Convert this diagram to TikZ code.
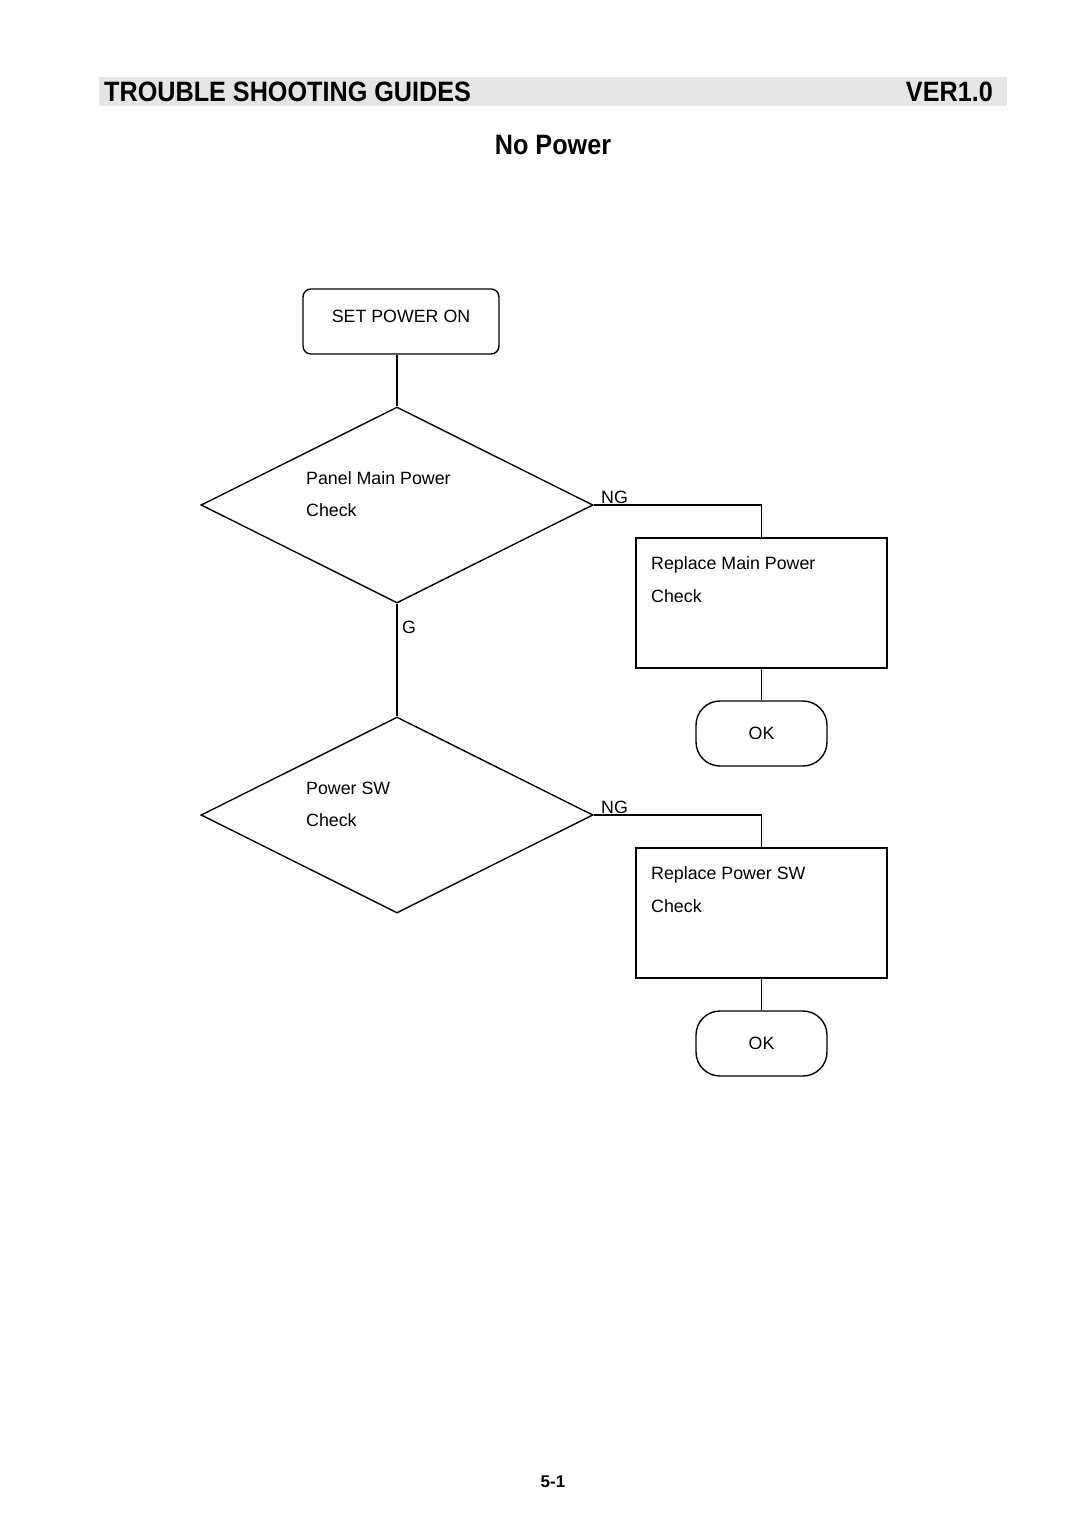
\documentclass[tikz,border=0pt]{standalone}
\usepackage{fontspec}
\setmainfont{Liberation Sans}
\newfontfamily\headfont[FakeStretch=0.9]{Liberation Sans}
\usetikzlibrary{shapes.geometric}
\definecolor{barfill}{RGB}{229,229,229}
\tikzset{
  conn/.style={line width=1.4pt},
  frame/.style={draw, line width=1.4pt, inner sep=0pt},
  startbox/.style={frame, rounded corners=8pt, minimum width=196pt, minimum height=65pt},
  decision/.style={frame, diamond, minimum width=392pt, minimum height=196pt},
  actbox/.style={frame, minimum width=251pt, minimum height=130pt},
  okbox/.style={frame, rounded corners=24pt, minimum width=131pt, minimum height=65pt},
  txt/.style={inner sep=0pt, font=\fontsize{17.8}{20}\selectfont},
  head/.style={inner sep=0pt, font=\headfont\bfseries\fontsize{28}{32}\selectfont},
}
\begin{document}
\begin{tikzpicture}[x=1pt,y=-1pt]
\useasboundingbox (0,0) rectangle (1080,1528);
% header
\node[fill=barfill, inner sep=0pt, minimum width=908pt, minimum height=29pt] (bar) at (553,91.5) {};
\node[head, anchor=base west] (htitle) at (104,101) {TROUBLE SHOOTING GUIDES};
\node[head, anchor=base east] (hver) at (993,101) {VER1.0};
\node[head, anchor=base] (title) at (553,154) {No Power};
% flow
\node[startbox] (start) at (401,321.5) {};
\node[txt, anchor=base] (startt) at (401,322) {SET POWER ON};
\node[decision] (d1) at (397,505) {};
\node[txt, anchor=base west] (d1a) at (306,484) {Panel Main Power};
\node[txt, anchor=base west] (d1b) at (306,516) {Check};
\node[actbox] (r1) at (761.5,603) {};
\node[txt, anchor=base west] (r1a) at (651,569) {Replace Main Power};
\node[txt, anchor=base west] (r1b) at (651,602) {Check};
\node[okbox] (ok1) at (761.5,733.5) {};
\node[txt, anchor=base] (ok1t) at (761.5,739) {OK};
\node[decision] (d2) at (397,815) {};
\node[txt, anchor=base west] (d2a) at (306,794) {Power SW};
\node[txt, anchor=base west] (d2b) at (306,826) {Check};
\node[actbox] (r2) at (761.5,913) {};
\node[txt, anchor=base west] (r2a) at (651,879) {Replace Power SW};
\node[txt, anchor=base west] (r2b) at (651,912) {Check};
\node[okbox] (ok2) at (761.5,1043.5) {};
\node[txt, anchor=base] (ok2t) at (761.5,1049) {OK};
% connectors
\draw[conn] (start.south -| d1.north) -- (d1.north);
\draw[conn] (d1.east) -- (d1.east -| r1.north) -- (r1.north);
\draw[conn] (r1.south) -- (ok1.north);
\draw[conn] (d1.south) -- (d2.north);
\draw[conn] (d2.east) -- (d2.east -| r2.north) -- (r2.north);
\draw[conn] (r2.south) -- (ok2.north);
% labels
\node[txt, anchor=base west] (ng1) at (601,503) {NG};
\node[txt, anchor=base west] (ng2) at (601,813) {NG};
\node[txt, anchor=base west] (g1) at (402,633) {G};
\node[inner sep=0pt, anchor=base, font=\bfseries\fontsize{17}{20}\selectfont] (pg) at (553,1487) {5-1};
\end{tikzpicture}
\end{document}
